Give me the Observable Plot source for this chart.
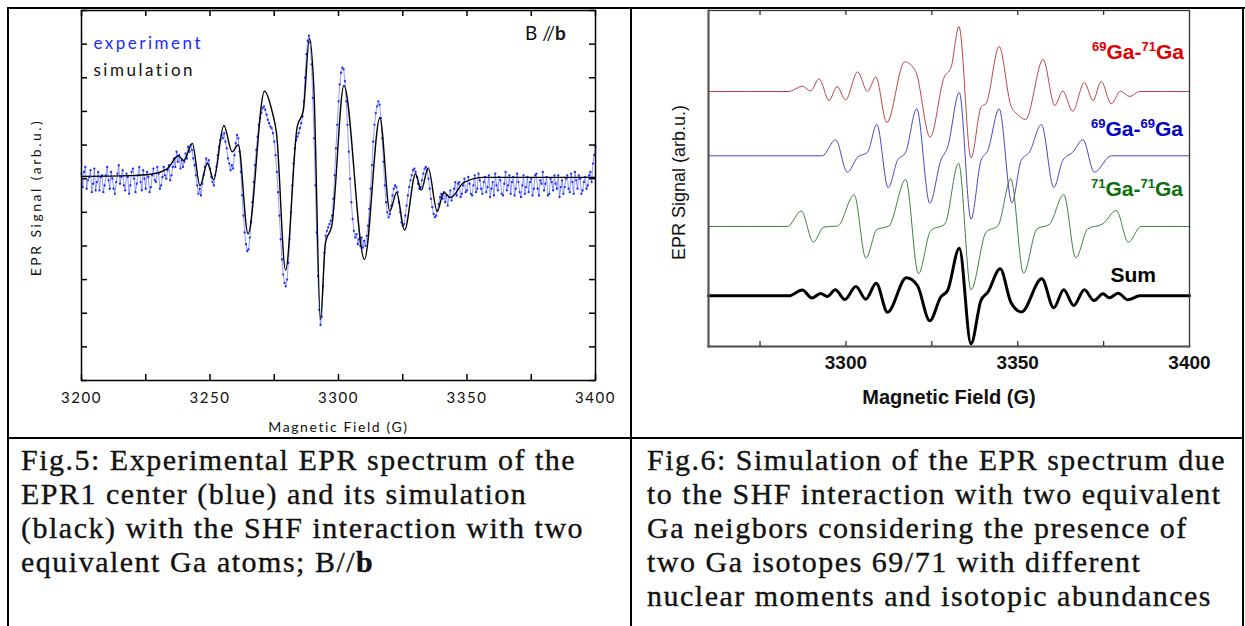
<!DOCTYPE html>
<html><head><meta charset="utf-8">
<script src="https://cdn.jsdelivr.net/npm/d3@7"></script>
<script src="https://cdn.jsdelivr.net/npm/@observablehq/plot@0.6"></script>
<style>
html,body{margin:0;padding:0;background:#fff;}
body{width:1245px;height:626px;overflow:hidden;position:relative;}
.rule{position:absolute;background:#000;}
#left,#right{position:absolute;top:0;}
#left{left:0;} #right{left:632px;}
.cap{position:absolute;font-family:"Liberation Serif",serif;font-size:30px;line-height:34px;letter-spacing:1.5px;color:#111;white-space:nowrap;-webkit-text-stroke:0.35px #111;}
.lab{position:absolute;font-family:"Liberation Sans",Arial,sans-serif;font-weight:bold;font-size:21px;line-height:21px;white-space:nowrap;text-align:right;}
.lab span{font-size:13px;position:relative;top:-8px;}
#bb{position:absolute;left:525px;top:23px;font-family:Lato,sans-serif;font-size:19px;line-height:19px;color:#111;white-space:nowrap;}
</style></head>
<body>
<div id="left"></div>
<div id="right"></div>
<div class="rule" style="left:7px;top:7px;width:1238px;height:2px"></div>
<div class="rule" style="left:7px;top:7px;width:2px;height:619px"></div>
<div class="rule" style="left:630px;top:7px;width:2px;height:619px"></div>
<div class="rule" style="left:1242px;top:7px;width:2px;height:619px"></div>
<div class="rule" style="left:7px;top:437px;width:1237px;height:2px"></div>
<div id="bb">B //<b>b</b></div>
<div class="lab" style="right:61px;top:41px;color:#e00000"><span>69</span>Ga-<span>71</span>Ga</div>
<div class="lab" style="right:62px;top:118px;color:#0000cc"><span>69</span>Ga-<span>69</span>Ga</div>
<div class="lab" style="right:62px;top:178px;color:#0a700a"><span>71</span>Ga-<span>71</span>Ga</div>
<div class="lab" style="right:89px;top:264px;color:#000">Sum</div>
<div class="cap" style="left:21px;top:443px">Fig.5: Experimental EPR spectrum of the<br>EPR1 center (blue) and its simulation<br>(black) with the SHF interaction with two<br>equivalent Ga atoms; B//<b>b</b></div>
<div class="cap" style="left:647px;top:443px">Fig.6: Simulation of the EPR spectrum due<br>to the SHF interaction with two equivalent<br>Ga neigbors considering the presence of<br>two Ga isotopes 69/71 with different<br>nuclear moments and isotopic abundances</div>
<script>
// ---------- Fig.5 data ----------
const fieldTicksLeft = [3200,3225,3250,3275,3300,3325,3350,3375,3400];
const fieldLabelsLeft = [3200,3250,3300,3350,3400];
const signalTicksLeft = [-6,-5,-4,-3,-2,-1,0,1,2,3,4,5];
const simulation = [[3200,0.07],[3219.1,0.09],[3226.8,0.13],[3233.3,0.29],[3237.7,0.68],[3239.8,0.54],[3243.1,1.05],[3246.1,-0.21],[3249.0,0.46],[3251.4,-0.03],[3255.4,1.58],[3258.6,0.80],[3261.0,1.01],[3264.8,-1.64],[3271.2,2.60],[3274.2,1.99],[3275.9,1.34],[3279.4,-2.72],[3283.9,1.53],[3286.3,2.02],[3288.7,4.17],[3290.4,2.72],[3293.0,-4.18],[3294.9,-1.93],[3297.5,-1.35],[3302.1,2.77],[3310.1,-2.40],[3316.1,1.81],[3320.0,-0.97],[3322.6,-0.41],[3325.7,-1.53],[3330.0,0.14],[3332.2,-0.34],[3334.9,0.32],[3338.4,-0.97],[3341.0,-0.41],[3343.6,-0.56],[3348.8,-0.11],[3356.5,0.04],[3400,0.04]];
const experiment = [[3200,0.15],[3200.5,-0.25],[3201,0.2],[3202,-0.3],[3203,0.05],[3204,-0.4],[3205,0.3],[3206,-0.1],[3207,-0.35],[3208,0.1],[3209,-0.2],[3210,0.35],[3211,-0.3],[3212,0.0],[3213,-0.45],[3214,0.15],[3215,-0.15],[3216,0.25],[3217,-0.35],[3218,0.05],[3219,-0.2],[3220,0.3],[3221,-0.4],[3222,0.1],[3223,-0.1],[3224,0.25],[3225,-0.3],[3226,0.05],[3227,-0.25],[3228,0.3],[3229,-0.1],[3230,0.15],[3231,-0.2],[3232,0.35],[3233,0.0],[3234,0.4],[3235,0.1],
[3236,0.6],[3236.5,0.35],[3237,0.8],[3237.5,0.5],[3238,0.7],[3238.5,0.3],[3239,0.55],[3239.5,0.35],[3240,0.5],[3240.5,0.75],[3241,0.6],[3241.5,0.95],[3242,0.8],[3242.5,1.0],[3243,0.85],[3243.5,0.6],[3244,0.4],[3244.5,0.1],[3245,-0.2],[3245.5,-0.45],[3246,-0.3],[3246.5,-0.5],[3247,-0.15],[3247.5,0.1],[3248,0.35],[3248.5,0.6],[3249,0.45],[3249.5,0.55],[3250,0.3],[3250.5,0.05],[3251,-0.1],[3251.5,-0.2],[3252,0.1],[3252.5,0.35],[3253,0.7],[3253.5,0.95],[3254,1.15],[3254.5,1.3],[3255,1.2],[3255.5,1.35],[3256,1.1],[3256.5,0.9],[3257,0.6],[3257.5,0.45],[3258,0.25],[3258.5,0.4],[3259,0.3],[3259.5,0.7],[3260,1.05],[3260.5,1.3],[3261,1.2],[3261.5,0.8],[3262,0.2],[3262.5,-0.5],[3263,-1.1],[3263.5,-1.6],[3264,-1.95],[3264.5,-2.15],[3265,-2.1],[3265.5,-1.75],[3266,-1.3],[3266.5,-0.7],[3267,-0.1],[3267.5,0.4],[3268,0.85],[3268.5,1.25],[3269,1.6],[3269.5,1.8],[3270,1.95],[3270.5,2.1],[3271,2.15],[3271.5,2.05],[3272,1.9],[3272.5,1.75],[3273,1.65],[3273.5,1.55],[3274,1.5],[3274.5,1.35],[3275,1.1],[3275.5,0.7],[3276,0.2],[3276.5,-0.4],[3277,-1.1],[3277.5,-1.8],[3278,-2.4],[3278.5,-2.85],[3279,-3.1],[3279.5,-3.2],[3280,-3.0],[3280.5,-2.5],[3281,-1.8],[3281.5,-1.0],[3282,-0.2],[3282.5,0.45],[3283,0.9],[3283.5,1.15],[3284,1.25],[3284.5,1.35],[3285,1.5],[3285.5,1.65],[3286,1.85],[3286.5,2.3],[3287,3.0],[3287.5,3.7],[3288,4.1],[3288.5,4.25],[3289,4.05],[3289.5,3.4],[3290,2.4],[3290.5,1.2],[3291,-0.2],[3291.5,-1.6],[3292,-2.9],[3292.5,-3.9],[3293,-4.35],[3293.5,-4.1],[3294,-3.2],[3294.5,-2.2],[3295,-1.7],[3295.5,-1.55],[3296,-1.45],[3296.5,-1.35],[3297,-1.25],[3297.5,-1.1],[3298,-0.6],[3298.5,0.1],[3299,0.9],[3299.5,1.6],[3300,2.3],[3300.5,2.8],[3301,3.15],[3301.5,3.3],[3302,3.25],[3302.5,2.9],[3303,2.3],[3303.5,1.6],[3304,0.8],[3304.5,0.0],[3305,-0.7],[3305.5,-1.2],[3306,-1.55],[3306.5,-1.75],[3307,-1.65],[3307.5,-1.95],[3308,-1.8],[3308.5,-2.0],[3309,-1.75],[3309.5,-2.05],[3310,-1.85],[3310.5,-2.0],[3311,-1.7],[3311.5,-1.4],[3312,-0.9],[3312.5,-0.3],[3313,0.4],[3313.5,1.1],[3314,1.6],[3314.5,1.95],[3315,2.15],[3315.5,2.3],[3316,2.2],[3316.5,1.8],[3317,1.2],[3317.5,0.5],[3318,-0.2],[3318.5,-0.7],[3319,-1.0],[3319.5,-1.15],[3320,-1.05],[3320.5,-0.8],[3321,-0.5],[3321.5,-0.3],[3322,-0.2],[3322.5,-0.25],[3323,-0.4],[3323.5,-0.7],[3324,-1.0],[3324.5,-1.3],[3325,-1.4],[3325.5,-1.35],[3326,-1.1],[3326.5,-0.8],[3327,-0.5],[3327.5,-0.25],[3328,-0.05],[3328.5,0.1],[3329,0.25],[3329.5,0.3],[3330,0.2],[3330.5,0.05],[3331,-0.15],[3331.5,-0.3],[3332,-0.25],[3332.5,-0.05],[3333,0.15],[3333.5,0.3],[3334,0.35],[3334.5,0.25],[3335,0.0],[3335.5,-0.3],[3336,-0.6],[3336.5,-0.85],[3337,-1.05],[3337.5,-1.15],[3338,-1.1],[3338.5,-0.95],[3339,-0.75],[3339.5,-0.55],[3340,-0.45],[3340.5,-0.6],[3341,-0.4],[3341.5,-0.7],[3342,-0.5],[3342.5,-0.8],[3343,-0.55],[3343.5,-0.35],[3344,-0.65],[3345,-0.3],
[3346,-0.5],[3347,-0.1],[3348,-0.45],[3349,0.0],[3350,-0.35],[3351,-0.15],[3352,-0.5],[3353,0.1],[3354,-0.3],[3355,-0.05],[3356,-0.45],[3357,0.05],[3358,-0.25],[3359,-0.55],[3360,-0.1],[3361,0.15],[3362,-0.35],[3363,-0.05],[3364,-0.5],[3365,0.2],[3366,-0.2],[3367,-0.45],[3368,0.05],[3369,-0.3],[3370,-0.1],[3371,-0.55],[3372,0.1],[3373,-0.25],[3374,-0.4],[3375,0.0],[3376,-0.3],[3377,0.15],[3378,-0.5],[3379,-0.15],[3380,-0.35],[3381,0.05],[3382,-0.45],[3383,-0.1],[3384,0.1],[3385,-0.3],[3386,-0.55],[3387,-0.05],[3388,-0.25],[3389,0.1],[3390,-0.4],[3391,-0.1],[3392,0.2],[3393,-0.3],[3394,0.0],[3395,-0.35],[3396,0.05],[3397,-0.2],[3398,0.2],[3399,0.45],[3399.5,0.7],[3400,0.95]];
const experimentBaseline = [[3201.5,0.35],[3202.5,-0.05],[3203.5,0.25],[3204.5,-0.15],[3205.5,-0.35],[3206.5,0.2],[3207.5,0.05],[3208.5,-0.4],[3209.5,0.1],[3210.5,-0.05],[3211.5,0.2],[3212.5,-0.3],[3213.5,-0.1],[3214.5,0.4],[3215.5,0.05],[3216.5,-0.2],[3217.5,0.15],[3218.5,-0.45],[3219.5,0.2],[3220.5,0.0],[3221.5,-0.15],[3222.5,0.35],[3223.5,-0.35],[3224.5,0.0],[3225.5,0.2],[3226.5,-0.4],[3227.5,0.1],[3228.5,-0.05],[3229.5,0.35],[3230.5,-0.3],[3231.5,0.05],[3232.5,0.1],[3233.5,0.25],[3234.5,-0.05],[3235.5,0.35],
[3345.5,-0.1],[3346.5,-0.15],[3347.5,-0.55],[3348.5,-0.2],[3349.5,-0.4],[3350.5,0.05],[3351.5,-0.45],[3352.5,-0.2],[3353.5,-0.4],[3354.5,0.15],[3355.5,-0.3],[3356.5,-0.1],[3357.5,-0.4],[3358.5,0.1],[3359.5,-0.3],[3360.5,-0.5],[3361.5,-0.2],[3362.5,0.05],[3363.5,-0.45],[3364.5,-0.15],[3365.5,-0.35],[3366.5,0.1],[3367.5,-0.1],[3368.5,-0.5],[3369.5,0.15],[3370.5,-0.4],[3371.5,-0.2],[3372.5,-0.45],[3373.5,0.05],[3374.5,-0.1],[3375.5,-0.5],[3376.5,0.1],[3377.5,-0.3],[3378.5,-0.05],[3379.5,0.2],[3380.5,-0.15],[3381.5,-0.5],[3382.5,0.0],[3383.5,-0.35],[3384.5,-0.15],[3385.5,0.1],[3386.5,-0.25],[3387.5,-0.45],[3388.5,0.0],[3389.5,-0.3],[3390.5,0.15],[3391.5,-0.45],[3392.5,-0.05],[3393.5,0.1],[3394.5,-0.45],[3395.5,-0.1],[3396.5,-0.3],[3397.5,0.1],[3398.5,-0.1]];

// ---------- Fig.6 data ----------
const fieldTicksRight = [3275,3300,3325,3350,3375];
const fieldLabelsRight = [3300,3350,3400];
const ga69_71 = [[3260,255],[3283.4,255],[3287.3,260.3],[3289.7,255.5],[3292.2,267.7],[3295.1,246],[3297.4,260],[3299.9,246.7],[3303.4,274.5],[3306.3,255],[3308.7,269.5],[3311.9,224],[3317.1,284.7],[3320.3,275],[3324.5,209.3],[3328.6,269.3],[3330.6,279],[3332.9,320],[3336.4,188.7],[3339.4,240],[3340.8,243],[3344.6,300],[3348.0,241],[3350.0,232],[3352.3,227],[3357.4,287],[3360.8,241],[3363.1,255.5],[3366.0,235.3],[3369.4,264],[3371.9,246],[3374.3,265],[3377.2,242.7],[3379.9,255.3],[3382.6,250],[3385.5,255],[3400,255]];
const ga69_69 = [[3260,190.7],[3293.1,190.7],[3297.0,206.7],[3300.4,174.3],[3303.4,189.3],[3306.3,194.3],[3309.0,222],[3312.3,158.7],[3315.0,186],[3317.4,194.3],[3320.6,237.7],[3324.4,143.3],[3327.6,186],[3329.6,199.3],[3333.0,254],[3336.4,127.3],[3339.3,186],[3341.3,196],[3344.6,237.7],[3348.3,143.7],[3351.0,186],[3353.4,194.3],[3356.9,222],[3360.5,159],[3363.1,186],[3366.0,194.3],[3369.0,206.7],[3372.3,174.3],[3377.2,190.7],[3400,190.7]];
const ga71_71 = [[3260,120],[3283.0,120],[3287.0,135.5],[3290.5,104.5],[3293.6,119.5],[3297.6,120.5],[3302.4,151.7],[3305.8,88.3],[3309.0,117],[3312.5,120.5],[3317.4,167],[3321.1,72.7],[3324.7,116],[3328.8,122.5],[3332.8,183.3],[3336.4,56.7],[3340.8,114.3],[3344.3,121],[3348.0,167.7],[3351.7,73.3],[3355.6,117.7],[3359.2,122],[3363.4,152],[3366.9,88.7],[3370.4,117.7],[3374.8,122.7],[3378.7,136],[3382.2,104.3],[3385.9,120],[3400,120]];
const sumSpectrum = [[3260,50.7],[3283.4,50.7],[3287.3,56.5],[3290.1,48.5],[3292.6,53],[3294.6,50],[3296.9,56.7],[3299.7,47],[3302.9,60],[3305.8,47.3],[3308.8,63.3],[3312.1,34.3],[3317.6,68.7],[3320.8,61],[3324.4,25.7],[3327.6,49.5],[3329.6,56],[3333.0,98.3],[3336.4,2.7],[3339.3,46],[3341.3,54.3],[3344.9,77.7],[3348.0,44.3],[3351.1,34.5],[3357.0,67.7],[3360.5,38.7],[3363.4,56.7],[3366.3,41],[3369.4,56.7],[3372.2,46],[3374.8,52.7],[3376.7,48.7],[3379.2,53.3],[3382.1,46.7],[3385.5,50.7],[3400,50.7]];

const BLUE = "#1a2cff";
const X = d => d[0], Y = d => d[1];
const expAll = experiment.concat(experimentBaseline).sort((a, b) => a[0] - b[0]);

const leftPlot = Plot.plot({
  width: 630, height: 437,
  marginLeft: 81, marginRight: 35, marginTop: 10, marginBottom: 57,
  x: {domain: [3200, 3400]},
  y: {domain: [-6, 5], axis: null},
  style: {fontFamily: "Lato, sans-serif", color: "#111", background: "transparent", overflow: "visible", letterSpacing: "1.6px"},
  marks: [
    Plot.line(expAll, {x: X, y: Y, stroke: BLUE, strokeWidth: 0.6, strokeOpacity: 0.8}),
    Plot.dot(expAll, {x: X, y: Y, r: 1.15, fill: BLUE, stroke: "none"}),
    Plot.line(simulation, {x: X, y: Y, curve: "monotone-x", stroke: "#000", strokeWidth: 1.4}),
    Plot.frame({stroke: "#000", strokeWidth: 1.5}),
    Plot.ruleX(fieldTicksLeft, {insetTop: 364, stroke: "#000", strokeWidth: 1.5}),
    Plot.ruleX(fieldTicksLeft, {insetBottom: 364, stroke: "#000", strokeWidth: 1.5}),
    Plot.ruleY(signalTicksLeft, {insetRight: 508, stroke: "#000", strokeWidth: 1.5}),
    Plot.ruleY(signalTicksLeft, {insetLeft: 508, stroke: "#000", strokeWidth: 1.5}),
    Plot.axisX({ticks: fieldLabelsLeft, tickSize: 0, tickPadding: 12, tickFormat: d => String(d), fontSize: 15, label: null}),
    Plot.text(["Magnetic Field (G)"], {text: d => d, frameAnchor: "bottom", dy: 47, lineAnchor: "middle", textAnchor: "middle", fontSize: 14, fill: "#111"}),
    Plot.text(["EPR Signal (arb.u.)"], {text: d => d, frameAnchor: "left", dx: -45, dy: 2, rotate: -90, lineAnchor: "middle", textAnchor: "middle", fontSize: 14, fill: "#111"}),
    Plot.text(["experiment"], {text: d => d, frameAnchor: "top-left", dx: 12, dy: 38, lineAnchor: "bottom", textAnchor: "start", fill: BLUE, fontSize: 17}),
    Plot.text(["simulation"], {text: d => d, frameAnchor: "top-left", dx: 12, dy: 65, lineAnchor: "bottom", textAnchor: "start", fill: "#111", fontSize: 17})
  ]
});
d3.select(leftPlot).selectAll("text").filter(function(){return this.textContent === "experiment" || this.textContent === "simulation" || this.textContent === "EPR Signal (arb.u.)";}).style("letter-spacing", "2.5px");
document.getElementById("left").appendChild(leftPlot);

const rightPlot = Plot.plot({
  width: 611, height: 437,
  marginLeft: 76, marginRight: 54, marginTop: 10, marginBottom: 91,
  x: {domain: [3260, 3400]},
  y: {domain: [0, 336], axis: null},
  style: {fontFamily: "'Liberation Sans', Arial, sans-serif", color: "#111", background: "transparent", overflow: "visible"},
  marks: [
    Plot.line(ga69_71, {x: X, y: Y, curve: "monotone-x", stroke: "#b84848", strokeWidth: 1}),
    Plot.line(ga69_69, {x: X, y: Y, curve: "monotone-x", stroke: "#4848c0", strokeWidth: 1}),
    Plot.line(ga71_71, {x: X, y: Y, curve: "monotone-x", stroke: "#3f7f3f", strokeWidth: 1}),
    Plot.line(sumSpectrum, {x: X, y: Y, curve: "monotone-x", stroke: "#000", strokeWidth: 3}),
    Plot.frame({stroke: "#333", strokeWidth: 1.3}),
    Plot.frame({anchor: "left", stroke: "#555", strokeWidth: 2}),
    Plot.frame({anchor: "bottom", stroke: "#555", strokeWidth: 2}),
    Plot.ruleX(fieldTicksRight, {insetTop: 331, stroke: "#333", strokeWidth: 1.3}),
    Plot.ruleX(fieldTicksRight, {insetBottom: 331, stroke: "#333", strokeWidth: 1.3}),
    Plot.axisX({ticks: fieldLabelsRight, tickSize: 0, tickPadding: 9, tickFormat: d => String(d), fontSize: 19, fontWeight: "bold", label: null}),
    Plot.text(["Magnetic Field (G)"], {text: d => d, frameAnchor: "bottom", dy: 51, lineAnchor: "middle", textAnchor: "middle", fontSize: 20, fontWeight: "bold", fill: "#111"}),
    Plot.text(["EPR Signal (arb.u.)"], {text: d => d, frameAnchor: "left", dx: -29, dy: 4, rotate: -90, lineAnchor: "middle", textAnchor: "middle", fontSize: 18, fill: "#111"})
  ]
});
document.getElementById("right").appendChild(rightPlot);
</script>
</body></html>
